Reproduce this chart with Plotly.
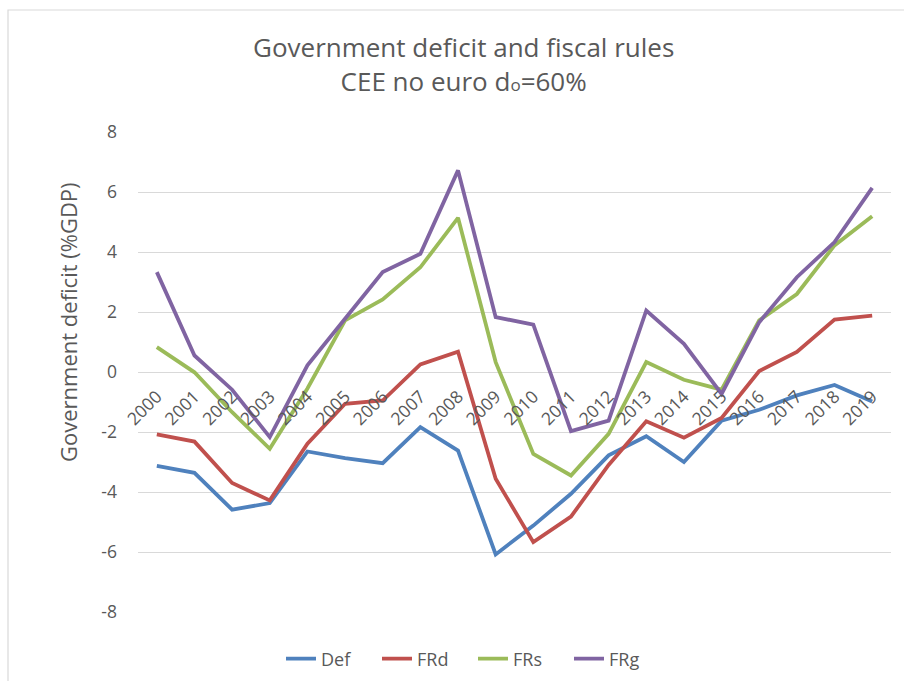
import plotly.graph_objects as go

# Years on the category axis
years = ["2000", "2001", "2002", "2003", "2004", "2005", "2006", "2007", "2008", "2009",
         "2010", "2011", "2012", "2013", "2014", "2015", "2016", "2017", "2018", "2019"]

# Government deficit (%GDP) under each scenario
deficit = [-3.13, -3.36, -4.59, -4.37, -2.65, -2.87, -3.04, -1.84, -2.62, -6.08,
           -5.12, -4.06, -2.78, -2.14, -3.00, -1.62, -1.26, -0.78, -0.43, -0.98]
fr_d = [-2.08, -2.32, -3.70, -4.28, -2.39, -1.06, -0.95, 0.25, 0.68, -3.56,
        -5.67, -4.82, -3.10, -1.64, -2.19, -1.53, 0.03, 0.67, 1.75, 1.88]
fr_s = [0.83, -0.01, -1.34, -2.56, -0.55, 1.72, 2.42, 3.49, 5.14, 0.33,
        -2.73, -3.45, -2.06, 0.33, -0.26, -0.59, 1.72, 2.60, 4.22, 5.19]
fr_g = [3.33, 0.55, -0.59, -2.17, 0.22, 1.78, 3.33, 3.94, 6.72, 1.83,
        1.58, -1.97, -1.62, 2.05, 0.94, -0.73, 1.66, 3.16, 4.33, 6.14]

series_names = ["Def", "FRd", "FRs", "FRg"]
series_values = [deficit, fr_d, fr_s, fr_g]
series_colors = ["#4F81BD", "#C0504D", "#9BBB59", "#8064A2"]

y_ticks = [-8, -6, -4, -2, 0, 2, 4, 6, 8]

FONT = "Open Sans"
TEXT = "#595959"
GRID = "#D9D9D9"

W, H = 904, 681
L, R, T, B = 138, 13, 132, 69
plot_w = W - L - R
plot_h = H - T - B


def px_x(px):
    return (px - L) / plot_w


def px_y(py):
    return (H - B - py) / plot_h


fig = go.Figure()
for name, vals, col in zip(series_names, series_values, series_colors):
    fig.add_trace(go.Scatter(
        x=years, y=vals, name=name, mode="lines",
        line=dict(color=col, width=3.8, shape="linear"),
    ))

title_text = ("Government deficit and fiscal rules<br>"
              "CEE no euro d<span style='font-size:17px'>o</span>=60%")

fig.update_layout(
    width=W, height=H,
    margin=dict(l=L, r=R, t=T, b=B, pad=0, autoexpand=False),
    paper_bgcolor="white", plot_bgcolor="white",
    font=dict(family=FONT, color=TEXT, size=17),
    showlegend=True,
    legend=dict(
        orientation="h", x=px_x(473), xanchor="center",
        y=px_y(659), yanchor="middle",
        font=dict(family=FONT, size=18, color=TEXT),
        itemwidth=30, entrywidth=51, entrywidthmode="pixels",
    ),
    xaxis=dict(
        type="category", categoryorder="array", categoryarray=years,
        range=[-0.5, len(years) - 0.5],
        anchor="free", position=0.5, automargin=False,
        tickangle=-45, showgrid=False, showline=False, zeroline=False,
        ticks="", tickfont=dict(family=FONT, size=17.5, color=TEXT),
        ticklabelstandoff=10,
    ),
    yaxis=dict(
        range=[-8, 8], tickvals=y_ticks, ticktext=[str(v) for v in y_ticks],
        showgrid=True, gridcolor=GRID, gridwidth=1.2,
        zeroline=True, zerolinecolor=GRID, zerolinewidth=1.2,
        showline=False, ticks="", domain=[0, 1], automargin=False,
        tickfont=dict(family=FONT, size=17.5, color=TEXT),
        ticklabelstandoff=20,
    ),
    shapes=[dict(
        type="rect", xref="paper", yref="paper", layer="below",
        x0=px_x(8), x1=px_x(960), y0=px_y(740), y1=px_y(10),
        line=dict(color=GRID, width=1.2), fillcolor="rgba(0,0,0,0)",
    )],
    annotations=[
        dict(text=title_text, xref="paper", yref="paper",
             x=px_x(463), y=px_y(64), xanchor="center", yanchor="middle",
             align="center", showarrow=False,
             font=dict(family=FONT, size=26, color=TEXT)),
        dict(text="Government deficit (%GDP)", xref="paper", yref="paper",
             x=px_x(68), y=px_y(322), xanchor="center", yanchor="middle",
             textangle=-90, showarrow=False,
             font=dict(family=FONT, size=22, color=TEXT)),
    ],
)

fig.write_html("out.html")
